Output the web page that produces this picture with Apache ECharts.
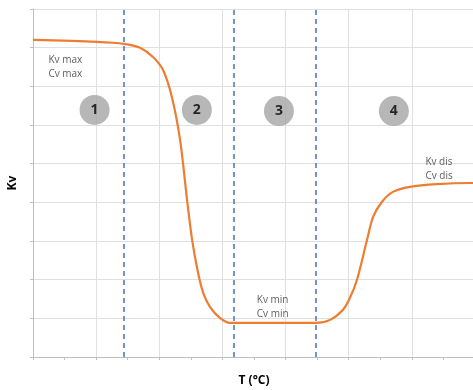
<!DOCTYPE html>
<html style="height: 100%">
<head>
    <meta charset="utf-8">
    <script type="text/javascript" src="https://cdn.jsdelivr.net/npm/echarts@6/dist/echarts.min.js"></script>
</head>
<body style="height: 100%; margin: 0; background: #fff">
    <div id="main" style="height: 390px; width: 473px;"></div>
    <script type="text/javascript">
        // curve (T, Kv)
        var curveT = [0, 2.03, 2.88, 3.39, 3.80, 4.12, 4.40, 4.66, 4.88, 5.04, 5.23, 5.39, 5.61, 5.92, 6.24, 7.5, 8.96, 9.41, 9.82, 10.04, 10.26, 10.58, 10.77, 11.05, 11.40, 11.94, 12.80, 13.84, 14];
        var curveKv = [8.20, 8.15, 8.10, 8.0, 7.76, 7.42, 6.72, 5.61, 4.06, 3.03, 2.17, 1.66, 1.29, 1.01, 0.88, 0.88, 0.88, 0.96, 1.22, 1.53, 1.99, 3.03, 3.62, 4.01, 4.27, 4.40, 4.47, 4.50, 4.50];

        // zone boundaries (dashed lines)
        var zoneLimits = [2.88, 6.37, 8.96];

        // numbered zone badges
        var zoneNames = ['1', '2', '3', '4'];
        var zoneT = [1.95, 5.19, 7.79, 11.43];
        var zoneKv = [6.39, 6.39, 6.36, 6.36];

        // text notes
        var noteText = ['Kv max\nCv max', 'Kv min\nCv min', 'Kv dis\nCv dis'];
        var noteT = [0.33, 6.93, 12.27];
        var noteKv = [7.5, 1.3, 4.85];

        var chart = echarts.init(document.getElementById('main'));

        var lineData = curveT.map(function (t, i) { return [t, curveKv[i]]; });
        var zoneData = zoneT.map(function (t, i) { return { value: [t, zoneKv[i]], name: zoneNames[i] }; });
        var noteData = noteT.map(function (t, i) { return { value: [t, noteKv[i]], name: noteText[i] }; });

        var font = 'Open Sans, Liberation Sans, sans-serif';

        var option = {
            animation: false,
            grid: { left: 33, right: -2, top: 9, bottom: 33, containLabel: false, outerBoundsMode: 'none' },
            xAxis: {
                type: 'value',
                min: 0, max: 14, interval: 2,
                name: 'T (°C)',
                nameLocation: 'middle',
                nameGap: 18,
                nameTextStyle: { fontFamily: font, fontWeight: 'bold', fontSize: 12, color: '#000' },
                axisLine: { lineStyle: { color: '#bfbfbf' } },
                axisTick: { show: true, length: 3, lineStyle: { color: '#bfbfbf' } },
                minorTick: { show: true, splitNumber: 2, length: 3, lineStyle: { color: '#bfbfbf' } },
                axisLabel: { show: false },
                splitLine: { show: true, lineStyle: { color: '#e0e0e0' } }
            },
            yAxis: {
                type: 'value',
                min: 0, max: 9, interval: 1,
                name: 'Kv',
                nameLocation: 'middle',
                nameRotate: 90,
                nameGap: 14,
                nameTextStyle: { fontFamily: font, fontWeight: 'bold', fontSize: 12, color: '#000' },
                axisLine: { show: true, lineStyle: { color: '#bfbfbf' } },
                axisTick: { show: true, length: 3, lineStyle: { color: '#bfbfbf' } },
                axisLabel: { show: false },
                splitLine: { show: true, lineStyle: { color: '#e0e0e0' } }
            },
            series: [
                {
                    type: 'line',
                    data: lineData,
                    smooth: 0.3,
                    symbol: 'none',
                    lineStyle: { color: '#ed7d31', width: 2.2 },
                    markLine: {
                        silent: true,
                        symbol: 'none',
                        label: { show: false },
                        lineStyle: { color: '#4472c4', type: [5, 4], width: 1.5 },
                        data: zoneLimits.map(function (v) { return { xAxis: v }; })
                    },
                    z: 3
                },
                {
                    type: 'scatter',
                    data: zoneData,
                    symbolSize: 30,
                    itemStyle: { color: '#a5a5a5' },
                    label: {
                        show: true,
                        position: 'inside',
                        formatter: '{b}',
                        fontFamily: font,
                        fontWeight: 'bold',
                        fontSize: 14,
                        color: '#000'
                    },
                    z: 4
                },
                {
                    type: 'scatter',
                    data: noteData,
                    symbolSize: 0,
                    label: {
                        show: true,
                        position: 'right',
                        formatter: '{b}',
                        fontFamily: font,
                        fontSize: 10,
                        lineHeight: 14,
                        color: '#333'
                    },
                    z: 5
                }
            ]
        };

        chart.setOption(option);
    </script>
</body>
</html>
